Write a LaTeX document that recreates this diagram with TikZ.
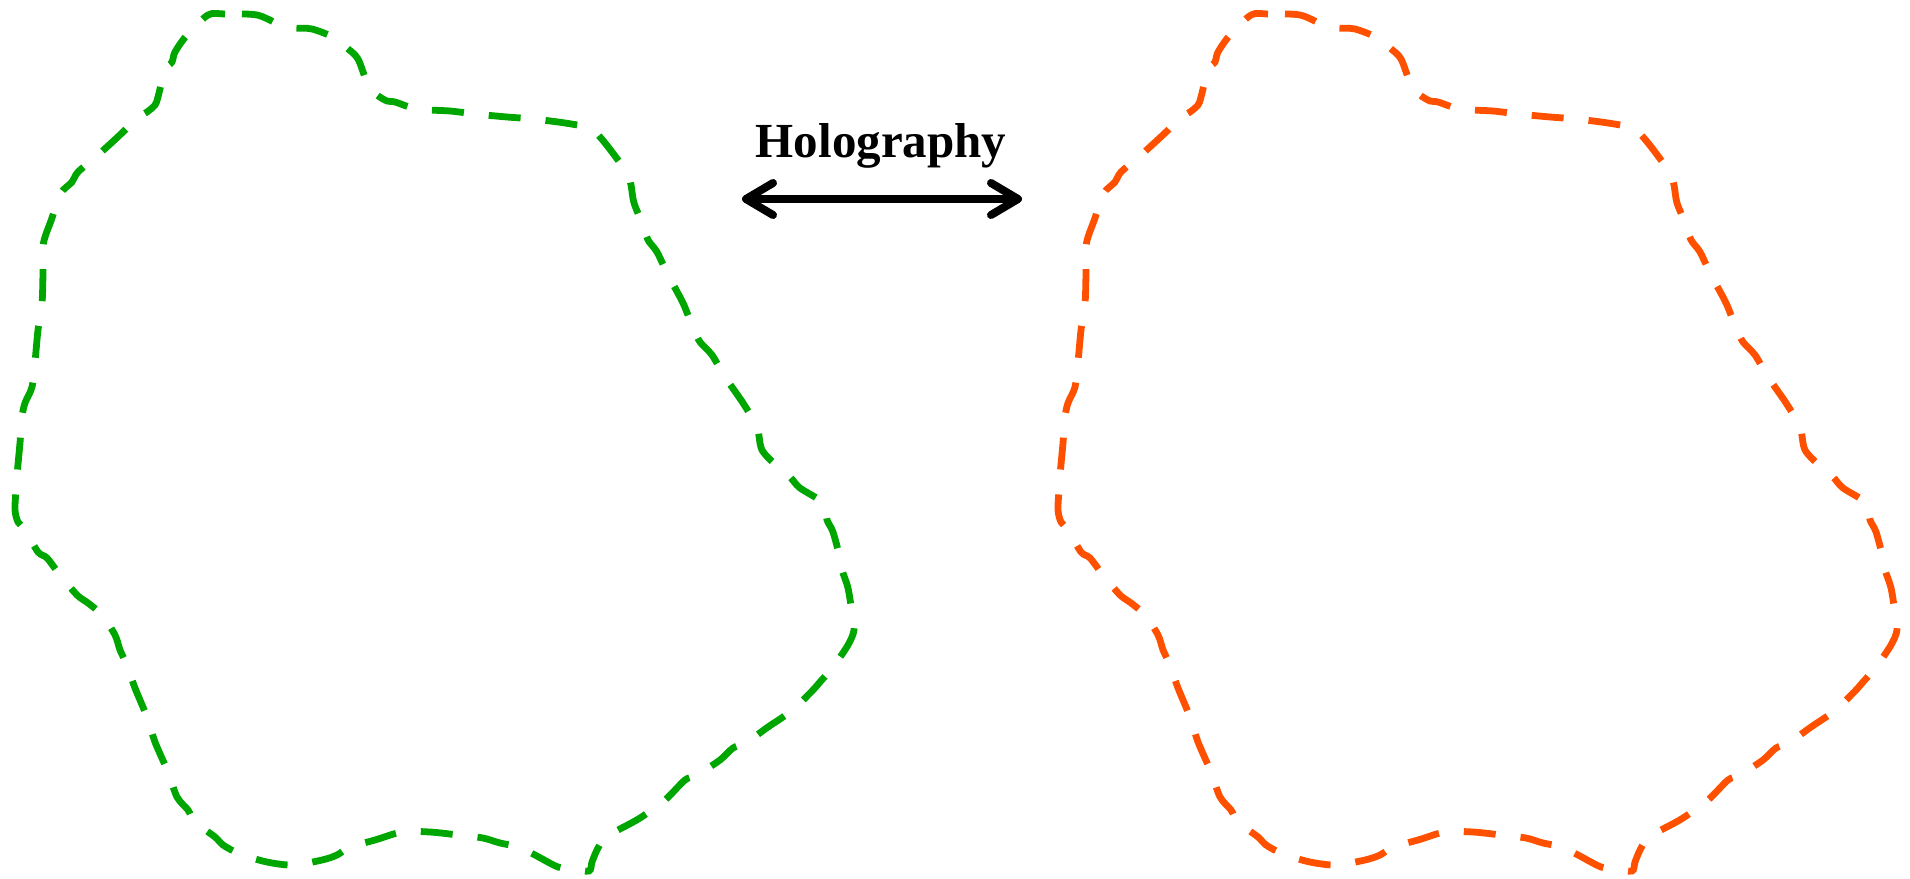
\documentclass[tikz,border=0pt]{standalone}
\usepackage{fontspec}
\setmainfont{Liberation Serif}
\usetikzlibrary{arrows.meta}
\definecolor{hgreen}{RGB}{0,166,0}
\definecolor{horange}{RGB}{255,80,0}
\tikzset{
  blobline/.style={line width=3.4pt, dash pattern=on 16pt off 12.5pt, dash phase=20pt},
  blob/.pic={
    \draw[blobline] plot[smooth cycle, tension=0.5] coordinates {
      (208,15) (225,14) (257,15) (280,25) (293,28) (312,29) (335,38) (347,48) (358,59)
      (368,85) (377,95) (387,101) (395,102) (417,109) (450,111) (475,114) (507,117)
      (533,119) (565,123) (590,128) (600,137) (612,152) (627,173) (631,185) (634,203)
      (643,225) (648,240) (657,252) (668,275) (683,303) (693,328) (700,342) (712,355)
      (725,377) (743,403) (757,427) (762,450) (778,467) (790,477) (800,488) (823,503)
      (827,520) (833,532) (840,558) (842,570) (848,588) (852,613) (854,630) (848,645)
      (833,667) (820,682) (813,690) (795,708) (783,717) (768,727) (747,742) (733,748)
      (720,760) (697,775) (685,780) (665,800) (640,818) (618,830) (605,837) (597,850)
      (592,862) (589,871) (573,869) (558,867) (535,855) (519,847) (500,843) (483,838)
      (458,835) (430,832) (402,832) (375,840) (350,847) (337,855) (322,860) (293,865)
      (267,862) (240,854) (223,845) (215,837) (195,822) (188,810) (177,797) (168,772)
      (155,742) (147,717) (135,688) (126,663) (120,650) (115,635) (102,615) (88,603)
      (77,595) (60,575) (47,558) (38,552) (25,530) (18,522) (15,510) (16,490) (17,475)
      (20,443) (22,417) (25,403) (32,387) (35,362) (38,330) (42,304) (43,272) (43,248)
      (45,237) (52,218) (60,194) (72,182) (78,172) (98,155) (122,133) (137,118)
      (147,112) (155,105) (158,97) (165,70) (172,62) (175,52) (187,35)
    };
  },
  barb/.tip={Straight Barb[length=13.5pt,width=16pt,round]},
  holoarrow/.style={line width=4pt, black, barb-barb},
  holotext/.style={font=\bfseries\fontsize{24.5pt}{29pt}\selectfont, anchor=base, inner sep=0pt}
}
\begin{document}
\begin{tikzpicture}[x=0.5pt,y=-0.5pt]
\useasboundingbox (0,0) rectangle (1910,878);
\pic[color=hgreen] (bulk) at (0,0) {blob};
\pic[color=horange] (bdry) at (1043,0) {blob};
\node[holotext] (title) at (881,157) {Holography};
\coordinate (aL) at (742,199);
\coordinate (aR) at (1022,199);
\draw[holoarrow] (aL) -- (aR);
\end{tikzpicture}
\end{document}
